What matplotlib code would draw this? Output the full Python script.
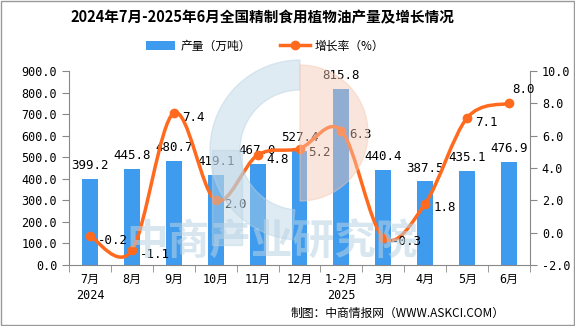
import numpy as np
import matplotlib.pyplot as plt
from matplotlib.path import Path
from matplotlib.patches import PathPatch, Rectangle, Wedge

plt.rcParams['font.family'] = ['DejaVu Sans Mono', 'Noto Sans CJK SC']

# data
months = ['7月\n2024', '8月', '9月', '10月', '11月', '12月', '1-2月\n2025', '3月', '4月', '5月', '6月']
output = [399.2, 445.8, 480.7, 419.1, 467.0, 527.4, 815.8, 440.4, 387.5, 435.1, 476.9]
growth = [-0.2, -1.1, 7.4, 2.0, 4.8, 5.2, 6.3, -0.3, 1.8, 7.1, 8.0]

bar_color = '#3F9BEE'
line_color = '#FF6A1E'
cjk = ['Noto Sans CJK SC', 'DejaVu Sans']

fig = plt.figure(figsize=(5.75, 3.26), dpi=100)
fig.patches.append(Rectangle((0.001, 0.002), 0.997, 0.995, transform=fig.transFigure,
                             fill=False, edgecolor='#999999', lw=1))

# watermark (pixel -> inch positions)
inch = fig.dpi_scale_trans
fig.patches.append(Wedge((3.0, (326 - 150) / 100), 0.9, 90, 265, width=0.3,
                         transform=inch, color='#B9D3E4', alpha=0.45, zorder=5))
fig.patches.append(Rectangle((2.12, (326 - 245) / 100), 0.3, 0.95,
                             transform=inch, color='#B9D3E4', alpha=0.45, zorder=5))
fig.patches.append(Wedge((3.0, (326 - 133) / 100), 0.68, -90, 90,
                         transform=inch, color='#F6C7B2', alpha=0.45, zorder=5))
fig.text(272 / 575, 1 - 243 / 326, '中商产业研究院', ha='center', va='center', fontsize=30,
         color='#B9D3E4', alpha=0.55, family=cjk, fontweight='bold', zorder=5)

ax = fig.add_axes([69 / 575, 1 - 265 / 326, 461 / 575, 194 / 326])
ax.patch.set_alpha(0)
x = np.arange(len(months))
bars = ax.bar(x, output, width=0.38, color=bar_color, label='产量（万吨）', zorder=2)
ax.set_xlim(-0.5, len(months) - 0.5)
ax.set_ylim(0, 900)
ax.set_yticks(np.arange(0, 901, 100))
ax.set_yticklabels([f'{v:.1f}' for v in np.arange(0, 901, 100)], fontsize=8.5)
ax.set_xticks(x)
ax.set_xticklabels(months, fontsize=8.5, linespacing=1.3)
ax.tick_params(axis='x', length=0, pad=6)
ax.set_xticks(np.arange(-0.5, len(months)), minor=True)
ax.tick_params(axis='x', which='minor', length=5, color='#888888')
ax.tick_params(axis='y', length=5, color='#888888')
for s in ['top', 'right']:
    ax.spines[s].set_visible(False)
for s in ['left', 'bottom']:
    ax.spines[s].set_color('#888888')

for xi, v in zip(x, output):
    ax.annotate(f'{v:.1f}', (xi, v), xytext=(0, 5), textcoords='offset points',
                ha='center', va='bottom', fontsize=9)

ax2 = ax.twinx()
ax2.set_ylim(-2, 10)
ax2.set_yticks(np.arange(-2, 11, 2))
ax2.set_yticklabels([f'{v:.1f}' for v in np.arange(-2, 11, 2)], fontsize=8.5)
ax2.tick_params(axis='y', length=5, color='#888888')
for s in ['top', 'left', 'bottom']:
    ax2.spines[s].set_visible(False)
ax2.spines['right'].set_color('#888888')

# smooth line (Catmull-Rom as cubic bezier segments)
pts = np.column_stack([x, growth]).astype(float)
verts = [tuple(pts[0])]
codes = [Path.MOVETO]
for i in range(len(pts) - 1):
    p0 = pts[i - 1] if i > 0 else pts[i]
    p1, p2 = pts[i], pts[i + 1]
    p3 = pts[i + 2] if i + 2 < len(pts) else pts[i + 1]
    c1 = p1 + (p2 - p0) / 6
    c2 = p2 - (p3 - p1) / 6
    verts += [tuple(c1), tuple(c2), tuple(p2)]
    codes += [Path.CURVE4] * 3
ax2.add_patch(PathPatch(Path(verts, codes), fill=False, edgecolor=line_color, lw=2.5, zorder=3))
ax2.plot(x, growth, 'o', color=line_color, ms=6, zorder=4)
ax2.plot([], [], '-o', color=line_color, lw=2.5, ms=6, label='增长率（%）')

for i, (xi, v) in enumerate(zip(x, growth)):
    if i == len(growth) - 1:
        ax2.annotate(f'{v:.1f}', (xi, v), xytext=(2, 5), textcoords='offset points',
                     ha='left', va='bottom', fontsize=9)
    else:
        ax2.annotate(f'{v:.1f}', (xi, v), xytext=(6, -3), textcoords='offset points',
                     ha='left', va='center', fontsize=9)

h1, l1 = ax.get_legend_handles_labels()
h2, l2 = ax2.get_legend_handles_labels()
fig.legend(h1 + h2, l1 + l2, loc='center', bbox_to_anchor=(265 / 575, 1 - 46 / 326), ncol=2,
           frameon=False, prop={'family': cjk, 'size': 8.5}, handlelength=2.5,
           columnspacing=2.5, handletextpad=0.4)

fig.text(262 / 575, 1 - 17 / 326, '2024年7月-2025年6月全国精制食用植物油产量及增长情况',
         ha='center', va='center', fontsize=10.5, fontweight='bold', family=cjk)
fig.text(505 / 575, 1 - 313 / 326, '制图：中商情报网（WWW.ASKCI.COM）',
         ha='right', va='center', fontsize=8.5, family=cjk)

fig.savefig('out.png', dpi=100)
